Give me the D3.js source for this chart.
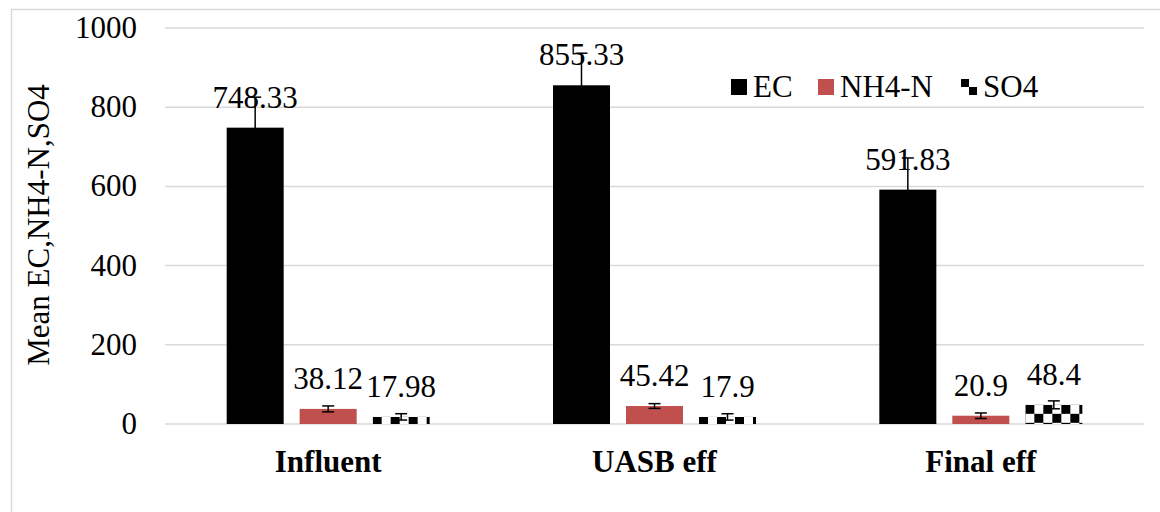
<!DOCTYPE html>
<html>
<head>
<meta charset="utf-8">
<script src="https://cdn.jsdelivr.net/npm/d3@7"></script>
<style>
    body { margin: 0; background: #fff; }
    svg text { font-family: "Liberation Serif", "Times New Roman", serif; fill: #000; }
</style>
</head>
<body>
<svg id="chart" width="1160" height="512"></svg>
<script>
// data
const categories = ["Influent", "UASB eff", "Final eff"];
const seriesNames = ["EC", "NH4-N", "SO4"];
const ecValues = [748.33, 855.33, 591.83];
const nh4Values = [38.12, 45.42, 20.9];
const so4Values = [17.98, 17.9, 48.4];
const ecErrors = [77, 81, 80];
const nh4Errors = [7.5, 6, 7];
const so4Errors = [8, 8, 10];
const labelText = [["748.33", "855.33", "591.83"], ["38.12", "45.42", "20.9"], ["17.98", "17.9", "48.4"]];
const yTicks = [0, 200, 400, 600, 800, 1000];

const values = [ecValues, nh4Values, so4Values];
const errors = [ecErrors, nh4Errors, so4Errors];
const fontSize = '31px';

let svg = d3.select('#chart');

// chart border (only left and top show in the crop)
svg.append('path')
    .attr('d', 'M11.5,512 L11.5,9.5 L1160,9.5')
    .attr('fill', 'none')
    .attr('stroke', '#d9d9d9')
    .attr('stroke-width', 1.5);

let defs = svg.append('defs');

let x = d3.scaleBand().domain(categories).range([165, 1144]);
let y = d3.scaleLinear().domain([0, 1000]).range([424, 28]);

let barW = 57, gap = 16;
let offset = s => x.bandwidth() / 2 - (3 * barW + 2 * gap) / 2 + s * (barW + gap);

// grid lines
svg.append('g').selectAll('line')
    .data(yTicks).join('line')
    .attr('x1', 165).attr('x2', 1144)
    .attr('y1', d => y(d)).attr('y2', d => y(d))
    .attr('stroke', '#d9d9d9')
    .attr('stroke-width', 1.5);

// y tick labels
svg.append('g').selectAll('text')
    .data(yTicks).join('text')
    .attr('x', 137)
    .attr('y', d => y(d) + 10)
    .attr('text-anchor', 'end')
    .style('font-size', fontSize)
    .text(d => d);

// y title
svg.append('text')
    .attr('transform', 'translate(49,225) rotate(-90)')
    .attr('text-anchor', 'middle')
    .style('font-size', fontSize)
    .text('Mean EC,NH4-N,SO4');

// checker pattern helper
function checker(id, px, py, cell)
{
    let p = defs.append('pattern')
        .attr('id', id)
        .attr('patternUnits', 'userSpaceOnUse')
        .attr('x', px).attr('y', py)
        .attr('width', cell * 2).attr('height', cell * 2);
    p.append('rect').attr('width', cell * 2).attr('height', cell * 2).attr('fill', '#fff');
    p.append('rect').attr('width', cell).attr('height', cell).attr('fill', '#000');
    p.append('rect').attr('x', cell).attr('y', cell).attr('width', cell).attr('height', cell).attr('fill', '#000');
}

const fills = ['#000000', '#c0504d', null];

values.forEach((vals, s) => {
    let g = svg.append('g');
    categories.forEach((c, i) => {
        let bx = x(c) + offset(s);
        let top = y(vals[i]);
        let fill = fills[s];
        if (fill === null) {
            checker('chk' + i, bx, top, 9);
            fill = 'url(#chk' + i + ')';
        }
        g.append('rect')
            .attr('x', bx).attr('y', top)
            .attr('width', barW).attr('height', y(0) - top)
            .attr('fill', fill);

        // error bar
        let cx = bx + barW / 2;
        let eTop = y(vals[i] + errors[s][i]);
        let eBot = y(Math.max(0, vals[i] - errors[s][i]));
        g.append('line').attr('x1', cx).attr('x2', cx).attr('y1', eTop).attr('y2', eBot)
            .attr('stroke', '#000').attr('stroke-width', 1.5);
        [eTop, eBot].forEach(ey => {
            g.append('line').attr('x1', cx - 6).attr('x2', cx + 6).attr('y1', ey).attr('y2', ey)
                .attr('stroke', '#000').attr('stroke-width', 1.5);
        });

        // value label
        g.append('text')
            .attr('x', cx)
            .attr('y', top - 20)
            .attr('text-anchor', 'middle')
            .style('font-size', fontSize)
            .text(labelText[s][i]);
    });
});

// category labels
svg.append('g').selectAll('text')
    .data(categories).join('text')
    .attr('x', d => x(d) + x.bandwidth() / 2)
    .attr('y', 472)
    .attr('text-anchor', 'middle')
    .style('font-size', fontSize)
    .style('font-weight', 'bold')
    .text(d => d);

// legend
const legendX = [731, 818, 961];
checker('chkLegend', 961, 79, 8);
let legend = svg.append('g');
seriesNames.forEach((name, s) => {
    legend.append('rect')
        .attr('x', legendX[s]).attr('y', 79)
        .attr('width', 16).attr('height', 16)
        .attr('fill', fills[s] === null ? 'url(#chkLegend)' : fills[s]);
    legend.append('text')
        .attr('x', legendX[s] + 22)
        .attr('y', 97)
        .style('font-size', fontSize)
        .text(name);
});
</script>
</body>
</html>
